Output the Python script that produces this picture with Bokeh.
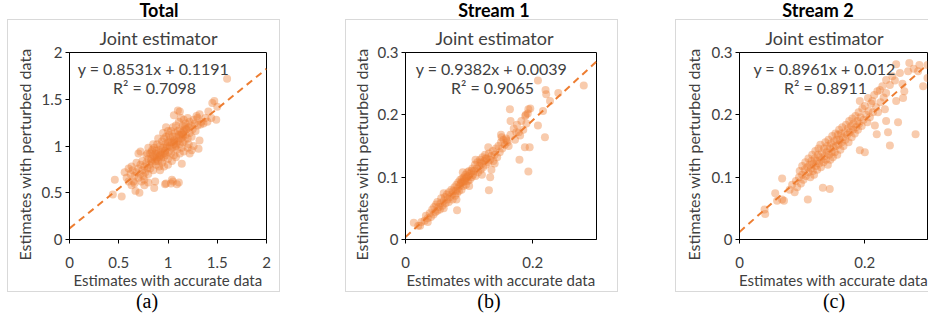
import math
from bokeh.plotting import figure
from bokeh.layouts import row, column
from bokeh.models import (Label, FixedTicker, Range1d, ColumnDataSource, Title, Div, Spacer)
from bokeh.embed import file_html
from bokeh.resources import INLINE

# ---------------- data ----------------
panel_titles = ["Total", "Stream 1", "Stream 2"]
sub_title = "Joint estimator"
letters = ["(a)", "(b)", "(c)"]
x_title = "Estimates with accurate data"
y_title = "Estimates with perturbed data"
slopes = [0.8531, 0.9382, 0.8961]
intercepts = [0.1191, 0.0039, 0.012]
eq_texts = ["y = 0.8531x + 0.1191", "y = 0.9382x + 0.0039", "y = 0.8961x + 0.012"]
r2_texts = ["R² = 0.7098", "R² = 0.9065", "R² = 0.8911"]
axis_max = [2.0, 0.3, 0.3]
x_ticks = [[0, 0.5, 1, 1.5, 2], [0, 0.2], [0, 0.2]]
y_ticks = [[0, 0.5, 1, 1.5, 2], [0, 0.1, 0.2, 0.3], [0, 0.1, 0.2, 0.3]]
x_tick_labels = [["0", "0.5", "1", "1.5", "2"], ["0", "0.2"], ["0", "0.2"]]
y_tick_labels = [["0", "0.5", "1", "1.5", "2"], ["0", "0.1", "0.2", "0.3"], ["0", "0.1", "0.2", "0.3"]]

total_x = [1.60, 1.50, 1.47, 1.45, 1.49, 1.41, 1.44, 1.32, 1.33, 1.30, 1.32, 1.31, 1.12, 1.06, 1.10,
           0.46, 0.44, 0.53, 0.71, 0.67, 0.98, 1.05, 1.11, 1.03, 0.86, 0.87, 0.60, 0.70, 0.79, 0.98,
           1.21, 1.24, 1.14, 1.07, 0.63, 0.65, 0.76, 0.80, 1.04, 0.97, 1.09, 0.72, 0.835, 1.15, 1.22,
           0.62, 0.64, 0.66, 0.68, 0.70, 0.70, 0.72, 0.72, 0.74, 0.74, 0.75, 0.76, 0.77, 0.78, 0.78,
           0.79, 0.80, 0.80, 0.81, 0.82, 0.82, 0.83, 0.84, 0.84, 0.85, 0.85, 0.86, 0.86, 0.87, 0.87,
           0.88, 0.88, 0.89, 0.89, 0.90, 0.90, 0.91, 0.91, 0.92, 0.92, 0.93, 0.93, 0.94, 0.94, 0.95,
           0.95, 0.96, 0.96, 0.97, 0.97, 0.98, 0.98, 0.99, 1.00, 1.00, 1.01, 1.01, 1.02, 1.02, 1.03,
           1.03, 1.04, 1.04, 1.05, 1.05, 1.06, 1.06, 1.07, 1.07, 1.08, 1.08, 1.09, 1.09, 1.10, 1.10,
           1.11, 1.11, 1.12, 1.12, 1.13, 1.13, 1.14, 1.14, 1.15, 1.15, 1.16, 1.16, 1.17, 1.17, 1.18,
           1.18, 1.19, 1.20, 1.20, 1.21, 1.22, 1.22, 1.23, 1.24, 1.25, 1.26, 1.27, 1.28, 1.29, 1.30,
           1.34, 1.36, 1.38, 1.40, 0.56, 0.58, 0.60, 0.63, 0.66, 0.68, 0.73, 0.76, 0.80, 0.85, 0.90,
           0.95, 1.00, 0.92, 0.96, 1.00, 1.04, 1.08, 1.12, 1.16, 1.20, 1.26, 0.88, 0.93, 0.99, 1.06,
           1.13, 1.18, 0.83, 0.91, 0.97, 1.02, 1.09, 1.15]
total_y = [1.72, 1.42, 1.48, 1.46, 1.28, 1.37, 1.30, 1.34, 1.23, 1.30, 1.06, 0.97, 1.37, 1.33, 1.38,
           0.64, 0.48, 0.46, 0.50, 0.52, 0.60, 0.62, 0.61, 0.60, 0.55, 0.62, 0.76, 0.92, 0.92, 1.20,
           1.02, 0.955, 0.81, 0.99, 0.58, 0.62, 0.58, 0.61, 0.64, 0.59, 0.59, 0.94, 0.94, 1.04, 0.92,
           0.70, 0.74, 0.68, 0.72, 0.76, 0.66, 0.70, 0.80, 0.74, 0.84, 0.68, 0.78, 0.72, 0.82, 0.90,
           0.76, 0.86, 0.70, 0.80, 0.92, 0.76, 0.86, 0.82, 0.96, 0.90, 0.74, 0.88, 0.98, 0.84, 0.92,
           0.80, 0.95, 0.88, 1.02, 0.84, 0.92, 0.96, 0.78, 0.90, 1.00, 0.86, 0.94, 1.05, 0.82, 0.92,
           0.98, 0.88, 1.08, 0.95, 1.02, 0.90, 1.10, 0.98, 1.04, 0.86, 0.94, 1.12, 1.00, 1.08, 0.92,
           1.16, 1.04, 0.98, 1.10, 1.20, 1.02, 0.90, 1.14, 1.06, 1.00, 1.22, 1.10, 0.96, 1.16, 1.05,
           1.26, 1.12, 1.02, 1.18, 1.08, 1.30, 1.14, 0.98, 1.22, 1.10, 1.16, 1.28, 1.06, 1.20, 1.12,
           1.24, 1.18, 1.30, 1.08, 1.20, 1.14, 1.26, 1.22, 1.10, 1.18, 1.28, 1.24, 1.16, 1.32, 1.22,
           1.26, 1.24, 1.30, 1.26, 0.72, 0.66, 0.62, 0.78, 0.60, 0.82, 0.62, 0.64, 0.98, 1.02, 1.08,
           1.14, 1.16, 0.74, 0.78, 0.80, 0.84, 0.88, 0.92, 0.94, 0.98, 1.00, 0.86, 0.90, 1.00, 1.06,
           1.12, 1.18, 0.84, 0.88, 0.93, 1.04, 1.04, 1.12]

s1_x = [0.280, 0.208, 0.240, 0.220, 0.221, 0.227, 0.216, 0.208, 0.219, 0.164, 0.165, 0.193, 0.189,
        0.195, 0.1875, 0.179, 0.193, 0.131, 0.081, 0.180, 0.174, 0.159, 0.151, 0.133, 0.135, 0.013,
        0.023, 0.020, 0.025, 0.030, 0.032, 0.035, 0.038, 0.040, 0.042, 0.044, 0.045, 0.047, 0.048,
        0.050, 0.050, 0.052, 0.054, 0.055, 0.056, 0.058, 0.060, 0.060, 0.062, 0.063, 0.065, 0.066,
        0.068, 0.068, 0.070, 0.072, 0.073, 0.074, 0.075, 0.077, 0.078, 0.079, 0.080, 0.081, 0.082,
        0.083, 0.084, 0.085, 0.086, 0.087, 0.088, 0.089, 0.090, 0.091, 0.092, 0.093, 0.094, 0.095,
        0.096, 0.097, 0.098, 0.099, 0.100, 0.101, 0.102, 0.104, 0.105, 0.106, 0.108, 0.109, 0.110,
        0.112, 0.113, 0.114, 0.116, 0.117, 0.118, 0.120, 0.121, 0.122, 0.124, 0.125, 0.126, 0.128,
        0.130, 0.131, 0.133, 0.135, 0.137, 0.138, 0.140, 0.142, 0.144, 0.146, 0.148, 0.150, 0.152,
        0.154, 0.156, 0.158, 0.160, 0.162, 0.165, 0.170, 0.172, 0.175, 0.178, 0.182, 0.185, 0.188,
        0.190, 0.192, 0.196, 0.060, 0.090, 0.110, 0.130, 0.150, 0.080, 0.100, 0.120, 0.140, 0.035,
        0.092, 0.096, 0.088, 0.104, 0.118, 0.126]
s1_y = [0.247, 0.255, 0.235, 0.240, 0.233, 0.222, 0.206, 0.183, 0.164, 0.209, 0.190, 0.209, 0.200,
        0.148, 0.148, 0.128, 0.109, 0.079, 0.047, 0.167, 0.172, 0.159, 0.164, 0.100, 0.112, 0.027,
        0.022, 0.022, 0.028, 0.030, 0.038, 0.034, 0.042, 0.036, 0.048, 0.040, 0.052, 0.044, 0.056,
        0.046, 0.060, 0.052, 0.048, 0.058, 0.066, 0.054, 0.062, 0.050, 0.068, 0.058, 0.072, 0.064,
        0.060, 0.076, 0.068, 0.080, 0.072, 0.064, 0.078, 0.084, 0.070, 0.078, 0.088, 0.074, 0.082,
        0.092, 0.078, 0.086, 0.096, 0.090, 0.080, 0.098, 0.092, 0.086, 0.100, 0.094, 0.104, 0.088,
        0.098, 0.108, 0.094, 0.102, 0.110, 0.096, 0.106, 0.100, 0.114, 0.104, 0.110, 0.120, 0.102,
        0.114, 0.124, 0.108, 0.118, 0.128, 0.112, 0.122, 0.132, 0.116, 0.126, 0.136, 0.120, 0.130,
        0.124, 0.138, 0.128, 0.134, 0.142, 0.126, 0.136, 0.146, 0.132, 0.150, 0.140, 0.156, 0.146,
        0.160, 0.152, 0.162, 0.156, 0.150, 0.168, 0.178, 0.160, 0.184, 0.172, 0.190, 0.176, 0.198,
        0.186, 0.202, 0.210, 0.074, 0.108, 0.128, 0.148, 0.168, 0.064, 0.086, 0.104, 0.122, 0.028,
        0.096, 0.100, 0.092, 0.110, 0.124, 0.130]

s2_x = [0.040, 0.041, 0.057, 0.060, 0.068, 0.071, 0.068, 0.084, 0.080, 0.088, 0.090, 0.092, 0.095,
        0.096, 0.098, 0.100, 0.100, 0.102, 0.104, 0.105, 0.106, 0.108, 0.109, 0.110, 0.110, 0.112,
        0.113, 0.114, 0.115, 0.116, 0.117, 0.118, 0.119, 0.120, 0.121, 0.122, 0.123, 0.124, 0.125,
        0.126, 0.127, 0.128, 0.129, 0.130, 0.131, 0.132, 0.133, 0.134, 0.135, 0.136, 0.137, 0.138,
        0.139, 0.140, 0.141, 0.142, 0.143, 0.144, 0.144, 0.145, 0.146, 0.147, 0.148, 0.149, 0.150,
        0.151, 0.152, 0.153, 0.154, 0.155, 0.156, 0.157, 0.158, 0.159, 0.160, 0.161, 0.162, 0.163,
        0.164, 0.165, 0.166, 0.168, 0.169, 0.170, 0.172, 0.173, 0.174, 0.175, 0.176, 0.178, 0.179,
        0.180, 0.181, 0.182, 0.184, 0.185, 0.186, 0.188, 0.189, 0.190, 0.191, 0.192, 0.192, 0.193,
        0.195, 0.196, 0.198, 0.200, 0.200, 0.202, 0.204, 0.205, 0.206, 0.208, 0.210, 0.212, 0.213,
        0.215, 0.216, 0.218, 0.219, 0.220, 0.221, 0.224, 0.225, 0.228, 0.230, 0.232, 0.234, 0.234,
        0.234, 0.237, 0.240, 0.240, 0.244, 0.248, 0.250, 0.250, 0.253, 0.256, 0.261, 0.263, 0.269,
        0.271, 0.281, 0.287, 0.293, 0.300, 0.300, 0.260, 0.278, 0.285]
s2_y = [0.048, 0.041, 0.074, 0.062, 0.064, 0.062, 0.098, 0.088, 0.080, 0.076, 0.094, 0.084, 0.100,
        0.110, 0.090, 0.104, 0.118, 0.096, 0.112, 0.124, 0.102, 0.116, 0.064, 0.108, 0.130, 0.120,
        0.100, 0.114, 0.126, 0.136, 0.110, 0.122, 0.104, 0.130, 0.142, 0.118, 0.126, 0.112, 0.136,
        0.146, 0.122, 0.132, 0.152, 0.116, 0.128, 0.140, 0.083, 0.124, 0.146, 0.134, 0.156, 0.128,
        0.140, 0.150, 0.120, 0.160, 0.136, 0.081, 0.146, 0.128, 0.154, 0.140, 0.166, 0.132, 0.148,
        0.158, 0.140, 0.170, 0.150, 0.160, 0.136, 0.168, 0.152, 0.176, 0.160, 0.144, 0.170, 0.156,
        0.180, 0.164, 0.150, 0.172, 0.160, 0.184, 0.168, 0.178, 0.156, 0.190, 0.172, 0.182, 0.164,
        0.194, 0.176, 0.186, 0.170, 0.198, 0.180, 0.190, 0.176, 0.204, 0.186, 0.143, 0.222, 0.196,
        0.182, 0.210, 0.192, 0.140, 0.214, 0.200, 0.188, 0.227, 0.206, 0.196, 0.218, 0.222, 0.204,
        0.232, 0.183, 0.212, 0.169, 0.238, 0.204, 0.240, 0.220, 0.246, 0.228, 0.209, 0.256, 0.235,
        0.190, 0.172, 0.151, 0.248, 0.262, 0.255, 0.222, 0.281, 0.188, 0.267, 0.227, 0.238, 0.270,
        0.283, 0.169, 0.280, 0.246, 0.280, 0.259, 0.250, 0.274, 0.270]

xs_all = [total_x, s1_x, s2_x]
ys_all = [total_y, s1_y, s2_y]

# ---------------- layout (page pixel positions) ----------------
ORIGIN = 1
col_left = [8, 346, 676]          # x of the grey border's left line
fig_w = [271, 271, 252]
fig_h = 271
title_h = 19
frame_lr = [(69, 267), (405, 597), (739, 928)]
frame_tb = (51, 241)
canvas_top = ORIGIN + title_h + 1
title_div = [(92, 120), (89, 120), (83, 120)]      # (margin-left, width)
letter_div = [(120, 40), (124, 40), (139, 40)]
sub_offset = [30, 30, 26]
ytitle_standoff = [9, 7, 11]
ytitle_offset = -21
pos_eq = [(153, 70), (491, 70), (824, 70)]
pos_r2 = [(154, 89), (492, 89), (825, 89)]

ORANGE = "#ED7D31"
TEXT = "#404040"
FONT = "Lato"

children = []
prev_right = ORIGIN
for i in range(3):
    fl, fr = frame_lr[i]
    ft, fb = frame_tb
    cl = col_left[i] + 1
    W = fig_w[i]
    m = axis_max[i]
    p = figure(width=W, height=fig_h, output_backend="svg", toolbar_location=None,
               x_range=Range1d(0, m), y_range=Range1d(0, m),
               min_border_left=fl - cl, min_border_right=cl + W - fr,
               min_border_top=ft - canvas_top, min_border_bottom=canvas_top + fig_h - fb,
               background_fill_color="white", border_fill_color="white")
    p.outline_line_color = "black"
    p.outline_line_width = 1
    p.grid.visible = False
    for ax, ticks, labs in ((p.xaxis[0], x_ticks[i], x_tick_labels[i]),
                            (p.yaxis[0], y_ticks[i], y_tick_labels[i])):
        ax.ticker = FixedTicker(ticks=ticks)
        ax.major_label_overrides = {t: l for t, l in zip(ticks, labs)}
        ax.axis_line_color = "black"
        ax.major_tick_line_color = "black"
        ax.major_tick_out = 4
        ax.major_tick_in = 0
        ax.minor_tick_line_color = None
        ax.major_label_text_font = FONT
        ax.major_label_text_font_size = "15px"
        ax.major_label_text_color = TEXT
        ax.axis_label_text_font = FONT
        ax.axis_label_text_font_size = "15px"
        ax.axis_label_text_font_style = "normal"
        ax.axis_label_text_color = TEXT
    p.xaxis[0].major_label_standoff = 13
    p.yaxis[0].major_label_standoff = 3
    p.xaxis[0].axis_label = x_title
    p.xaxis[0].axis_label_standoff = 0

    # y-axis title, placed to the left of the y axis and shifted down like the original
    p.add_layout(Title(text=y_title, align="left", offset=ytitle_offset,
                       vertical_align="bottom", standoff=ytitle_standoff[i],
                       text_font=FONT, text_font_size="16px", text_font_style="normal",
                       text_color=TEXT), "left")

    p.add_layout(Title(text=sub_title, align="left", offset=sub_offset[i],
                       text_font=FONT, text_font_size="18px", text_font_style="normal",
                       text_color=TEXT, standoff=8), "above")

    src = ColumnDataSource(dict(x=xs_all[i], y=ys_all[i]))
    p.scatter("x", "y", source=src, size=8, fill_color=ORANGE, fill_alpha=0.4,
              line_color=None)
    lx = [0.0, m]
    ly = [slopes[i] * v + intercepts[i] for v in lx]
    p.line(lx, ly, line_color=ORANGE, line_width=2, line_dash="7 5")

    for text, pos in ((eq_texts[i], pos_eq[i]), (r2_texts[i], pos_r2[i])):
        p.add_layout(Label(x=pos[0] - fl, y=fb - pos[1], x_units="screen", y_units="screen",
                           text=text, text_font=FONT, text_font_size="16px",
                           text_color=TEXT, text_align="center", text_baseline="middle"))

    border = {"border": "1px solid #D9D9D9"}
    if i == 2:
        border["border-right"] = "none"
    boxed = column(p, styles=border)

    tml, tw = title_div[i]
    top_div = Div(text=panel_titles[i], width=tw, height=title_h, margin=(0, 0, 0, tml),
                  styles={"font-family": FONT, "font-weight": "bold", "font-size": "18px",
                          "color": "black", "text-align": "center",
                          "line-height": "21px"})
    lml, lw = letter_div[i]
    bot_div = Div(text=letters[i], width=lw, height=19, margin=(0, 0, 0, lml),
                  styles={"font-family": "Liberation Serif", "font-size": "20px",
                          "color": "black", "text-align": "center",
                          "line-height": "19px"})
    children.append(Spacer(width=col_left[i] - prev_right, height=1))
    children.append(column(top_div, boxed, bot_div))
    prev_right = col_left[i] + W + 2

layout = row(*children)
open("out.html", "w").write(file_html(layout, INLINE))
